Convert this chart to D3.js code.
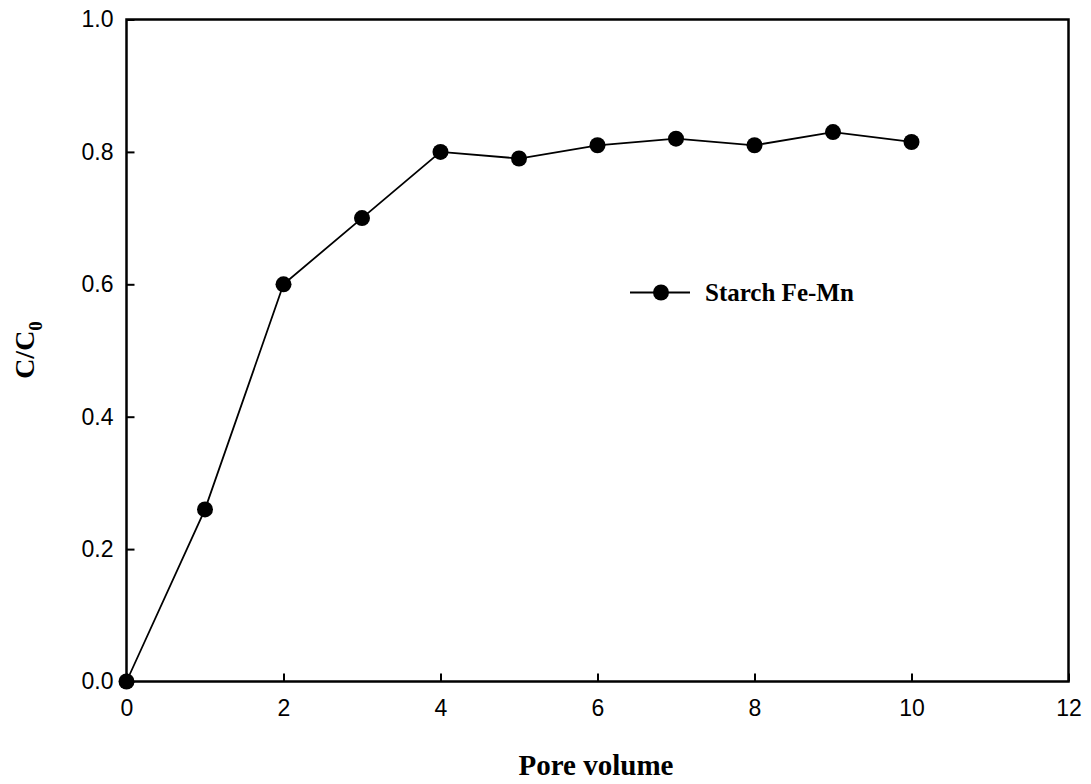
<!DOCTYPE html>
<html>
<head>
<meta charset="utf-8">
<script src="https://cdn.jsdelivr.net/npm/d3@7"></script>
<style>
  html, body { margin: 0; padding: 0; background: #fff; }
  svg { display: block; }
</style>
</head>
<body>
<svg id="chart" width="1091" height="784"></svg>
<script>
// Breakthrough curve data
const poreVolume = [0, 1, 2, 3, 4, 5, 6, 7, 8, 9, 10];
const concRatio = [0, 0.26, 0.60, 0.70, 0.80, 0.79, 0.81, 0.82, 0.81, 0.83, 0.815];
const xTicks = [0, 2, 4, 6, 8, 10, 12];
const yTicks = [0, 0.2, 0.4, 0.6, 0.8, 1.0];
const seriesName = "Starch Fe-Mn";

const svg = d3.select("#chart");
const plotL = 126.5, plotR = 1068.5, plotT = 19.5, plotB = 681.5;

const x = d3.scaleLinear().domain([0, 12]).range([plotL, plotR]);
const y = d3.scaleLinear().domain([0, 1]).range([plotB, plotT]);

const tickFont = "Arial, 'Liberation Sans', sans-serif";
const serif = "'Times New Roman', 'Liberation Serif', serif";

// Bottom axis with inward ticks
const xAxis = svg.append("g")
  .attr("transform", `translate(0,${plotB})`)
  .call(d3.axisBottom(x).tickValues(xTicks).tickSizeInner(-8).tickSizeOuter(0).tickPadding(18).tickFormat(d3.format("d")));
xAxis.select(".domain").remove();
xAxis.selectAll("line").attr("stroke", "#000").attr("stroke-width", 2);
xAxis.selectAll("text").attr("font-family", tickFont).attr("font-size", 23).attr("fill", "#000");

// Left axis with inward ticks
const yAxis = svg.append("g")
  .attr("transform", `translate(${plotL},0)`)
  .call(d3.axisLeft(y).tickValues(yTicks).tickSizeInner(-8).tickSizeOuter(0).tickPadding(13).tickFormat(d3.format(".1f")));
yAxis.select(".domain").remove();
yAxis.selectAll("line").attr("stroke", "#000").attr("stroke-width", 2);
yAxis.selectAll("text").attr("font-family", tickFont).attr("font-size", 23).attr("fill", "#000");

// Frame
svg.append("rect")
  .attr("x", plotL).attr("y", plotT)
  .attr("width", plotR - plotL).attr("height", plotB - plotT)
  .attr("fill", "none").attr("stroke", "#000").attr("stroke-width", 2.5);

// Series line and markers
const pts = poreVolume.map((v, i) => [v, concRatio[i]]);
svg.append("path")
  .datum(pts)
  .attr("fill", "none")
  .attr("stroke", "#000")
  .attr("stroke-width", 1.8)
  .attr("d", d3.line().x(d => x(d[0])).y(d => y(d[1])));

svg.append("g").selectAll("circle")
  .data(pts)
  .join("circle")
  .attr("cx", d => x(d[0]))
  .attr("cy", d => y(d[1]))
  .attr("r", 8)
  .attr("fill", "#000");

// Legend
const legY = 292.5;
svg.append("line")
  .attr("x1", 630).attr("x2", 690).attr("y1", legY).attr("y2", legY)
  .attr("stroke", "#000").attr("stroke-width", 1.8);
svg.append("circle").attr("cx", 661).attr("cy", legY).attr("r", 8).attr("fill", "#000");
svg.append("text")
  .attr("x", 705).attr("y", legY + 8.5)
  .attr("font-family", serif).attr("font-weight", "bold").attr("font-size", 25)
  .attr("fill", "#000")
  .text(seriesName);

// Axis titles
svg.append("text")
  .attr("x", 596).attr("y", 775)
  .attr("text-anchor", "middle")
  .attr("font-family", serif).attr("font-weight", "bold").attr("font-size", 29)
  .attr("fill", "#000")
  .text("Pore volume");

const yl = svg.append("text")
  .attr("transform", `translate(34,350) rotate(-90)`)
  .attr("text-anchor", "middle")
  .attr("font-family", serif).attr("font-weight", "bold").attr("font-size", 28)
  .attr("fill", "#000");
yl.append("tspan").text("C/C");
yl.append("tspan").attr("font-size", 19).attr("dy", 8).text("0");
</script>
</body>
</html>
